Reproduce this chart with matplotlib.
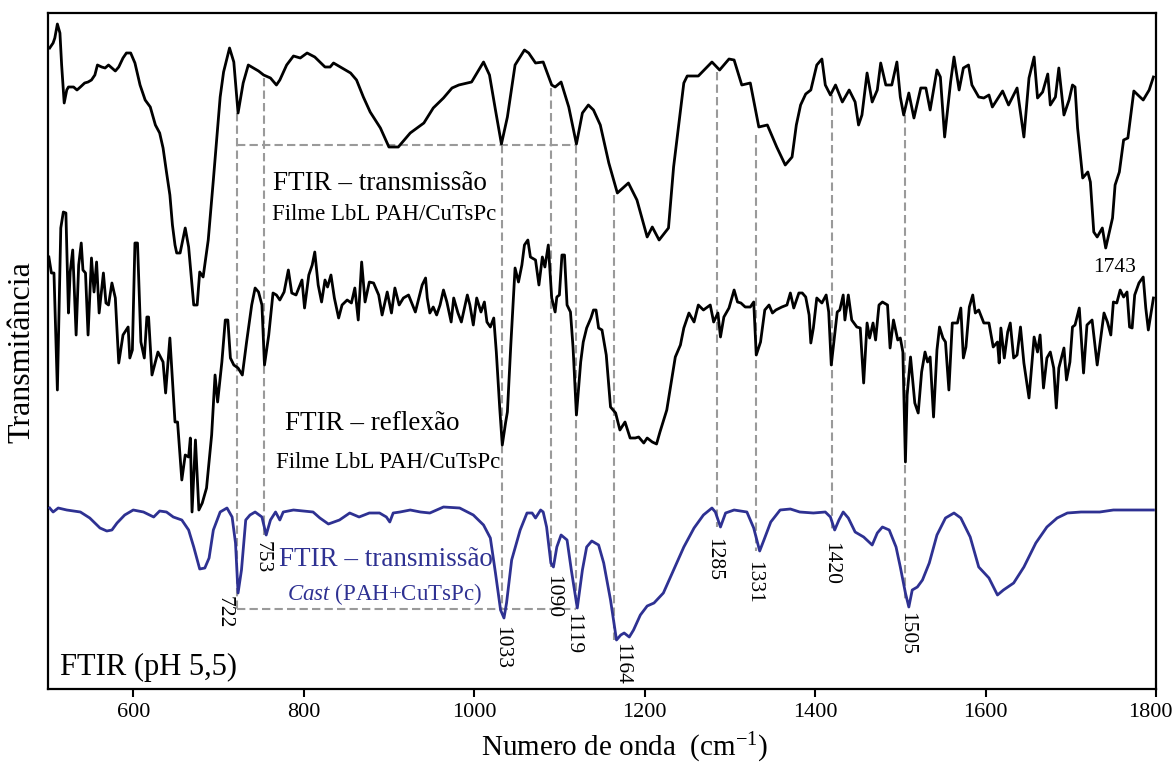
import matplotlib
matplotlib.use("Agg")
import matplotlib.pyplot as plt
import matplotlib.transforms as mtransforms

# FTIR spectra of PAH/CuTsPc (pH 5.5), stacked with offsets, arbitrary units
plt.rcParams["font.family"] = ["Liberation Serif", "DejaVu Serif"]
plt.rcParams["mathtext.fontset"] = "custom"
plt.rcParams["mathtext.rm"] = "Liberation Serif"
plt.rcParams["mathtext.it"] = "Liberation Serif:italic"

# top: FTIR transmission, LbL film
trans_wn = [502, 506, 508, 511, 514, 516, 519, 522, 524, 530, 534, 538, 543, 547, 551, 555,
            558, 563, 567, 571, 575, 579, 583, 588, 592, 597, 602, 608, 614, 620, 626, 631,
            635, 639, 643, 646, 649, 651, 655, 661, 665, 671, 675, 678, 682, 688, 694, 702,
            706, 713, 718, 723, 729, 735, 741, 747, 753, 761, 768, 772, 780, 788, 796, 804,
            813, 825, 831, 835, 843, 855, 862, 870, 878, 890, 900, 911, 925, 941, 952, 964,
            974, 982, 997, 1011, 1018, 1025, 1032, 1039, 1048, 1059, 1064, 1072, 1081, 1091,
            1095, 1102, 1111, 1120, 1127, 1134, 1140, 1148, 1158, 1168, 1181, 1191, 1203,
            1209, 1217, 1228, 1234, 1246, 1250, 1263, 1279, 1288, 1299, 1305, 1314, 1324,
            1334, 1344, 1355, 1365, 1373, 1378, 1383, 1389, 1395, 1402, 1408, 1412, 1418,
            1424, 1432, 1440, 1447, 1451, 1455, 1461, 1467, 1473, 1477, 1483, 1490, 1496,
            1500, 1504, 1510, 1516, 1524, 1530, 1535, 1543, 1547, 1552, 1559, 1563, 1569,
            1574, 1580, 1584, 1592, 1598, 1604, 1608, 1620, 1627, 1637, 1645, 1651, 1657,
            1661, 1667, 1673, 1676, 1682, 1686, 1692, 1698, 1702, 1705, 1708, 1714, 1720,
            1723, 1727, 1731, 1737, 1741, 1749, 1752, 1757, 1762, 1767, 1774, 1780, 1785,
            1792, 1797]
trans_t = [641, 646, 651, 665, 656, 624, 586, 599, 602, 602, 599, 602, 606, 607, 609, 614,
           624, 622, 621, 624, 621, 618, 622, 631, 636, 636, 626, 604, 589, 582, 564, 556,
           541, 517, 494, 464, 444, 436, 436, 461, 442, 384, 384, 417, 412, 449, 509, 592,
           617, 641, 627, 576, 606, 624, 621, 618, 614, 611, 604, 609, 624, 633, 631, 636,
           632, 622, 622, 626, 622, 616, 609, 592, 577, 561, 542, 542, 556, 566, 581, 591,
           601, 604, 607, 627, 614, 579, 545, 572, 624, 639, 636, 626, 627, 604,
           602, 607, 582, 545, 576, 584, 579, 564, 526, 496, 506, 489, 452,
           462, 449, 461, 522, 606, 613, 613, 627, 619, 630, 629, 604, 606,
           562, 564, 542, 524, 532, 564, 584, 595, 599, 624, 630, 604, 594,
           604, 587, 599, 587, 564, 574, 616, 587, 599, 626, 604, 604, 627,
           592, 574, 596, 571, 601, 601, 579, 619, 612, 552, 607, 632, 599,
           621, 624, 604, 592, 591, 594, 582, 598, 584, 601, 552, 611, 632,
           591, 597, 615, 584, 592, 621, 574, 589, 604, 602, 561, 511, 517,
           507, 457, 452, 461, 441, 471, 504, 517, 549, 551, 598, 593, 589,
           599, 612]

# middle: FTIR reflection, LbL film
refl_wn = [501, 504, 507, 511, 515, 518, 521, 524, 526, 529, 533, 536, 539, 541, 544, 547,
           551, 554, 557, 560, 565, 568, 571, 575, 579, 583, 588, 594, 596, 599, 602, 605,
           609, 613, 616, 618, 622, 626, 629, 635, 638, 643, 649, 652, 657, 661, 665, 667,
           669, 673, 677, 681, 686, 692, 696, 699, 704, 708, 711, 714, 718, 723, 728, 733,
           739, 743, 747, 751, 754, 759, 764, 768, 772, 777, 782, 786, 791, 798, 801, 806,
           810, 813, 817, 821, 825, 828, 832, 836, 841, 845, 851, 856, 860, 864, 868, 872,
           877, 882, 888, 892, 898, 903, 907, 912, 917, 923, 931, 939, 943, 945, 948, 952,
           956, 960, 964, 968, 973, 976, 981, 985, 992, 995, 999, 1003, 1008, 1012, 1015,
           1019, 1023, 1026, 1030, 1033, 1037, 1039, 1043, 1048, 1052, 1056, 1059, 1063,
           1066, 1072, 1076, 1080, 1083, 1087, 1091, 1095, 1097, 1100, 1103, 1106, 1109,
           1113, 1116, 1120, 1125, 1128, 1132, 1137, 1140, 1143, 1146, 1150, 1155, 1160,
           1166, 1171, 1177, 1183, 1189, 1193, 1199, 1203, 1209, 1214, 1218, 1226, 1236,
           1242, 1246, 1252, 1258, 1263, 1269, 1277, 1281, 1286, 1289, 1293, 1299, 1305,
           1309, 1313, 1318, 1324, 1328, 1331, 1336, 1341, 1346, 1350, 1354, 1361, 1367,
           1371, 1375, 1381, 1385, 1389, 1393, 1395, 1398, 1402, 1408, 1413, 1416, 1419,
           1422, 1426, 1429, 1433, 1435, 1439, 1443, 1449, 1453, 1457, 1461, 1464, 1468,
           1471, 1475, 1479, 1485, 1488, 1492, 1497, 1500, 1503, 1506, 1508, 1512, 1517,
           1521, 1525, 1529, 1532, 1535, 1539, 1543, 1546, 1550, 1553, 1557, 1561, 1567,
           1571, 1574, 1577, 1581, 1585, 1588, 1592, 1598, 1604, 1609, 1614, 1616, 1618,
           1622, 1626, 1629, 1633, 1637, 1641, 1645, 1651, 1657, 1661, 1664, 1668, 1672,
           1676, 1680, 1683, 1686, 1692, 1695, 1699, 1702, 1705, 1710, 1715, 1719, 1725,
           1731, 1739, 1743, 1747, 1750, 1754, 1758, 1762, 1766, 1769, 1772, 1775, 1780,
           1785, 1788, 1791, 1797]
refl_t = [432, 416, 416, 299, 461, 477, 476, 376, 417, 439, 354, 424, 446, 419, 416, 354,
          431, 397, 427, 376, 416, 386, 384, 406, 391, 326, 354, 362, 331, 339, 446, 446,
          347, 331, 372, 372, 314, 327, 337, 327, 296, 351, 267, 267, 209, 234, 232, 251,
          177, 249, 179, 186, 201, 254, 314, 287, 327, 369, 369, 331, 324, 321, 314, 347,
          384, 401, 397, 384, 324, 354, 396, 394, 389, 397, 419, 396, 394, 409, 381, 414,
          424, 437, 404, 387, 409, 402, 414, 391, 371, 384, 389, 386, 401, 369, 427, 387,
          407, 406, 394, 374, 397, 376, 401, 384, 391, 394, 377, 404, 411, 391, 376, 382,
          374, 384, 399, 387, 367, 391, 376, 367, 394, 384, 364, 391, 377, 387, 367,
          362, 371, 337, 281, 244, 267, 277, 344, 421, 407, 424, 444, 449,
          432, 429, 404, 432, 422, 444, 391, 377, 392, 394, 434, 434, 384,
          377, 342, 274, 327, 347, 361, 371, 379, 379, 361, 359, 334, 282,
          276, 259, 267, 251, 251, 252, 246, 251, 247, 245, 257, 279, 332,
          344, 361, 376, 367, 384, 379, 384, 367, 376, 352, 372, 381, 399,
          387, 386, 382, 382, 387, 334, 347, 379, 384, 376, 379, 382, 384,
          396, 381, 396, 396, 392, 374, 346, 361, 391, 386, 394, 377, 324,
          347, 377, 379, 394, 369, 394, 369, 362, 361, 306, 366, 351, 366,
          349, 384, 387, 384, 341, 369, 349, 351, 337, 227, 294, 332, 286,
          276, 317, 337, 327, 332, 272, 339, 362, 351, 347, 299, 366, 366,
          381, 331, 342, 382, 394, 376, 379, 366, 366, 342, 347, 326, 361,
          331, 357, 366, 331, 334, 362, 326, 291, 352, 337, 354, 301, 331,
          337, 321, 281, 321, 341, 309, 327, 362, 364, 381, 316, 364, 369,
          324, 376, 367, 354, 387, 386, 399, 392, 397, 362, 361, 394, 406,
          412, 381, 359, 391]

# bottom: FTIR transmission, cast film
cast_wn = [502, 506, 512, 522, 538, 549, 561, 569, 575, 581, 590, 600, 612, 624, 631, 639,
           647, 657, 665, 671, 678, 684, 689, 694, 702, 710, 716, 720, 723, 727, 732, 737,
           743, 751, 756, 761, 767, 772, 776, 788, 811, 819, 829, 842, 854, 865, 877, 889,
           897, 901, 905, 913, 925, 937, 948, 964, 983, 999, 1011, 1019, 1025, 1031, 1035,
           1038, 1044, 1054, 1062, 1068, 1072, 1078, 1081, 1085, 1090, 1093, 1097, 1102,
           1109, 1114, 1121, 1127, 1132, 1138, 1146, 1152, 1160, 1167, 1172, 1176, 1182,
           1187, 1195, 1203, 1211, 1222, 1234, 1246, 1258, 1269, 1279, 1283, 1289, 1295,
           1305, 1320, 1328, 1335, 1340, 1348, 1359, 1371, 1382, 1398, 1412, 1418, 1423,
           1428, 1433, 1439, 1447, 1457, 1467, 1473, 1479, 1487, 1495, 1500, 1506, 1510,
           1514, 1520, 1526, 1534, 1543, 1553, 1563, 1571, 1582, 1592, 1604, 1614, 1621,
           1633, 1645, 1659, 1672, 1684, 1696, 1712, 1734, 1750, 1774, 1797]
cast_t = [181, 177, 181, 179, 177, 171, 161, 158, 159, 166, 174, 179, 177, 172, 178, 177,
          172, 169, 159, 142, 120, 121, 131, 159, 177, 181, 172, 146, 96, 119, 169, 174,
          177, 172, 154, 169, 177, 169, 177, 179, 177, 171, 165, 169, 176, 172, 176, 176,
          172, 167, 176, 177, 179, 177, 176, 182, 181, 174, 164, 151, 116, 79, 71,
          86, 129, 159, 176, 176, 171, 179, 177, 162, 126, 122, 142, 154,
          149, 119, 81, 119, 142, 148, 144, 126, 89, 49, 54, 56, 52,
          59, 74, 83, 86, 96, 119, 142, 161, 174, 181, 177, 162, 176,
          179, 177, 161, 138, 149, 167, 179, 180, 177, 176, 177, 172, 159,
          169, 177, 171, 157, 152, 144, 156, 162, 159, 142, 122, 96, 82,
          99, 102, 109, 126, 154, 171, 176, 171, 152, 122, 111, 94, 99,
          106, 122, 146, 162, 171, 176, 177, 177, 179, 179, 179]

# marked bands: wavenumber, top and bottom end of the guide line
band_wn = [722, 753, 1033, 1090, 1119, 1164, 1285, 1331, 1420, 1505]
band_top = [576, 611, 544, 601, 544, 494, 617, 554, 594, 574]
band_bottom = [80, 154, 80, 122, 80, 49, 162, 138, 159, 90]
# band labels (rotated), placed below the cast spectrum
label_wn = [707, 751, 1032, 1092, 1116, 1173, 1281, 1328, 1418, 1508]
label_y = [77, 132, 42, 92, 55, 25, 130, 107, 125, 55]

BLUE = "#2e3192"
GREY = "#9a9a9a"

fig = plt.figure(figsize=(11.73, 7.65), dpi=100)
ax = fig.add_axes([48 / 1173, 1 - 689 / 765, 1108 / 1173, 676 / 765])

# guide lines first, spectra on top
for wn, y0, y1 in zip(band_wn, band_top, band_bottom):
    ax.plot([wn, wn], [y0, y1], color=GREY, lw=1.5, dashes=(4, 2), zorder=1)
for y in (544, 80):
    ax.plot([722, 1119], [y, y], color=GREY, lw=1.5, dashes=(4, 2), zorder=1)

ax.plot(trans_wn, trans_t, color="black", lw=2.0, zorder=3)
ax.plot(refl_wn, refl_t, color="black", lw=2.0, zorder=3)
ax.plot(cast_wn, cast_t, color=BLUE, lw=2.0, zorder=3)

for wn, y, txt in zip(label_wn, label_y, band_wn):
    ax.text(wn, y, str(txt), rotation=-90, ha="center", va="center", fontsize=15.5)
ax.text(1752, 421, "1743", ha="center", va="center", fontsize=15.5)

ax.text(890, 506, "FTIR \u2013 transmiss\u00e3o", ha="center", va="center", fontsize=19.5)
ax.text(894, 474, "Filme LbL PAH/CuTsPc", ha="center", va="center", fontsize=16.5)
ax.text(880, 266, "FTIR \u2013 reflex\u00e3o", ha="center", va="center", fontsize=19.5)
ax.text(899, 227, "Filme LbL PAH/CuTsPc", ha="center", va="center", fontsize=16.5)
ax.text(896, 129, "FTIR \u2013 transmiss\u00e3o", ha="center", va="center", fontsize=19.5, color=BLUE)
ax.text(895, 95, r"$\mathit{Cast}$ (PAH+CuTsPc)", ha="center", va="center", fontsize=16.5, color=BLUE)
ax.text(514, 22, "FTIR (pH 5,5)", ha="left", va="center", fontsize=22)

ax.set_xlim(500, 1800)
ax.set_ylim(0, 676)
ax.set_yticks([])
ax.set_xticks([600, 800, 1000, 1200, 1400, 1600, 1800])
ax.tick_params(axis="x", direction="out", length=6, width=1.5, labelsize=16, pad=4)
for s in ax.spines.values():
    s.set_linewidth(1.6)

# keep the last tick label inside the figure
last = ax.get_xticklabels()[-1]
last.set_transform(last.get_transform() + mtransforms.ScaledTranslation(-6 / 100, 0, fig.dpi_scale_trans))

fig.text(625 / 1173, 1 - 748 / 765, "Numero de onda  (cm$^{-1}$)", ha="center", va="center", fontsize=21)
fig.text(22 / 1173, 1 - 352 / 765, "Transmit\u00e2ncia", ha="center", va="center", rotation=90, fontsize=23)

fig.savefig("out.png", dpi=100)
